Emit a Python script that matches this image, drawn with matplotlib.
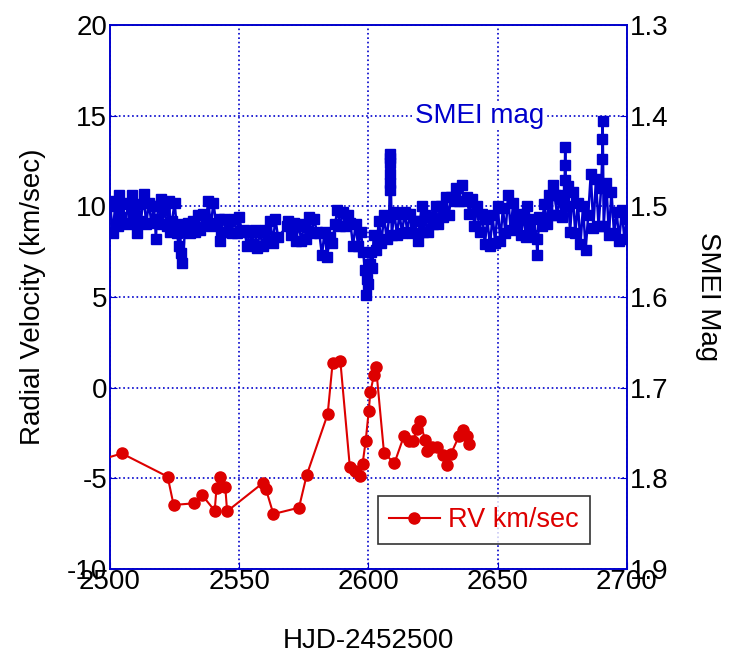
import matplotlib.pyplot as plt

plt.rcParams['font.family'] = ['Liberation Sans', 'DejaVu Sans']
plt.rcParams['axes.unicode_minus'] = False

# radial velocity (km/sec) vs HJD-2452500
rv_day = [2497.0, 2504.6, 2522.3, 2524.6, 2532.5, 2535.6, 2540.5, 2541.2, 2542.6,
          2544.6, 2545.3, 2559.3, 2560.3, 2563.2, 2573.1, 2576.1, 2584.2, 2586.1,
          2589.1, 2592.8, 2594.8, 2596.7, 2597.7, 2598.9, 2600.1, 2600.7, 2602.1,
          2602.9, 2606.0, 2610.0, 2613.7, 2615.8, 2617.1, 2618.9, 2619.9, 2621.9,
          2622.7, 2624.7, 2626.6, 2628.7, 2630.2, 2631.8, 2635.1, 2636.7, 2638.0,
          2638.8]
rv_val = [-3.95, -3.63, -4.91, -6.47, -6.38, -5.92, -6.79, -5.52, -4.91,
          -5.50, -6.82, -5.24, -5.59, -6.97, -6.62, -4.82, -1.47, 1.34,
          1.48, -4.40, -4.58, -4.88, -4.21, -2.96, -1.27, -0.26, 0.68,
          1.15, -3.59, -4.18, -2.67, -2.93, -2.93, -2.30, -1.86, -2.89,
          -3.48, -3.30, -3.26, -3.72, -4.27, -3.68, -2.65, -2.34, -2.67,
          -3.11]

# SMEI magnitude vs HJD-2452500
smei_day = [2500, 2501, 2502, 2503, 2503.5, 2504, 2505, 2506, 2507, 2508, 2508.6, 2509,
            2510, 2510.5, 2511, 2512, 2513, 2514, 2515, 2516, 2517, 2517.8, 2518, 2519,
            2519.6, 2520, 2521, 2522, 2523, 2523.2, 2524, 2525, 2526, 2526.5, 2527, 2527.5,
            2528, 2529, 2530, 2531, 2532, 2533, 2534, 2535, 2536, 2537, 2538, 2539,
            2540, 2541, 2542, 2542.6, 2543, 2544, 2545, 2546, 2547, 2548, 2549, 2550,
            2551, 2552, 2553, 2554, 2555, 2556, 2557, 2558, 2559, 2560, 2561, 2562,
            2563, 2564, 2565, 2568.5, 2569, 2570, 2571, 2572, 2573, 2574, 2575, 2576,
            2577, 2578, 2579, 2580, 2581, 2582, 2583, 2584, 2585, 2586, 2587, 2588,
            2589, 2590, 2591, 2592, 2593, 2594, 2595, 2596, 2597, 2598, 2598.5, 2599,
            2599.5, 2600, 2600.5, 2601, 2601.5, 2602, 2603, 2604, 2605, 2606, 2607, 2608,
            2608.2, 2608.25, 2608.3, 2608.35, 2608.4, 2608.45, 2609, 2610, 2611, 2612, 2613, 2614,
            2615, 2616, 2617, 2618, 2619, 2620, 2620.6, 2621, 2622, 2623, 2624, 2625,
            2626, 2627, 2628, 2629, 2630, 2631, 2632, 2633, 2634, 2635, 2636, 2637,
            2638, 2639, 2640, 2641, 2642, 2643, 2644, 2645, 2646, 2647, 2648, 2649,
            2650, 2651, 2652, 2653, 2654, 2655, 2656, 2657, 2658, 2659, 2660, 2661,
            2661.4, 2662, 2663, 2664, 2665, 2665.3, 2666, 2667, 2668, 2669, 2670, 2671,
            2671.2, 2672, 2673, 2674, 2675, 2675.8, 2675.9, 2676, 2676.1, 2676.5, 2677, 2678,
            2679, 2680, 2681, 2682, 2683, 2684, 2685, 2686, 2687, 2688, 2689, 2690,
            2690.4, 2690.5, 2690.6, 2691, 2692, 2693, 2694, 2695, 2696, 2697, 2698, 2699,
            2700]
smei_mag = [1.494, 1.530, 1.500, 1.522, 1.488, 1.512, 1.498, 1.520, 1.496, 1.518, 1.488, 1.508,
            1.520, 1.530, 1.498, 1.516, 1.486, 1.520, 1.496, 1.518, 1.500, 1.536, 1.514, 1.500,
            1.492, 1.520, 1.504, 1.522, 1.494, 1.528, 1.516, 1.496, 1.530, 1.544, 1.520, 1.552,
            1.562, 1.528, 1.518, 1.530, 1.516, 1.528, 1.510, 1.526, 1.508, 1.520, 1.494, 1.522,
            1.496, 1.518, 1.514, 1.538, 1.528, 1.514, 1.528, 1.516, 1.530, 1.514, 1.530, 1.512,
            1.528, 1.526, 1.544, 1.528, 1.542, 1.526, 1.546, 1.528, 1.544, 1.526, 1.538, 1.516,
            1.540, 1.514, 1.534, 1.522, 1.516, 1.532, 1.518, 1.538, 1.520, 1.538, 1.522, 1.536,
            1.512, 1.530, 1.514, 1.528, 1.530, 1.554, 1.528, 1.556, 1.534, 1.540, 1.520, 1.504,
            1.522, 1.506, 1.522, 1.510, 1.518, 1.544, 1.520, 1.544, 1.528, 1.550, 1.570, 1.598,
            1.580, 1.586, 1.564, 1.550, 1.568, 1.532, 1.548, 1.516, 1.540, 1.510, 1.536, 1.512,
            1.482, 1.474, 1.464, 1.452, 1.447, 1.442, 1.532, 1.506, 1.532, 1.508, 1.530, 1.506,
            1.528, 1.508, 1.530, 1.516, 1.538, 1.516, 1.500, 1.528, 1.510, 1.528, 1.512, 1.520,
            1.500, 1.520, 1.500, 1.512, 1.490, 1.510, 1.490, 1.494, 1.480, 1.494, 1.476, 1.494,
            1.490, 1.508, 1.492, 1.522, 1.500, 1.528, 1.508, 1.542, 1.514, 1.544, 1.510, 1.540,
            1.500, 1.538, 1.502, 1.530, 1.488, 1.526, 1.496, 1.520, 1.508, 1.532, 1.510, 1.534,
            1.500, 1.520, 1.532, 1.514, 1.536, 1.554, 1.512, 1.522, 1.498, 1.520, 1.488, 1.510,
            1.476, 1.488, 1.510, 1.492, 1.512, 1.488, 1.471, 1.454, 1.435, 1.500, 1.478, 1.528,
            1.484, 1.530, 1.496, 1.542, 1.500, 1.548, 1.510, 1.464, 1.524, 1.470, 1.522, 1.480,
            1.448, 1.426, 1.406, 1.522, 1.474, 1.532, 1.484, 1.530, 1.506, 1.538, 1.504, 1.536,
            1.514]

blue = '#0000CC'
red = '#DD0000'
fs = 20

fig = plt.figure(figsize=(7.31, 6.57), dpi=100)
ax = fig.add_axes([0.1505, 0.134, 0.7072, 0.828])
ax2 = ax.twinx()

ax2.plot(smei_day, smei_mag, '-s', color=blue, ms=6.5, lw=1.8, mec=blue, zorder=3)
ax.plot(rv_day, rv_val, '-o', color=red, ms=8, lw=1.5, label='RV km/sec', zorder=4)
ax.set_zorder(ax2.get_zorder() + 1)
ax.patch.set_visible(False)

ax.set_xlim(2500, 2700)
ax.set_ylim(-10, 20)
ax2.set_ylim(1.9, 1.3)
ax.set_xticks([2500, 2550, 2600, 2650, 2700])
ax.set_yticks(range(-10, 21, 5))
ax2.set_yticks([1.3, 1.4, 1.5, 1.6, 1.7, 1.8, 1.9])
ax2.set_yticklabels(['1.3', '1.4', '1.5', '1.6', '1.7', '1.8', '1.9'])

ax.grid(True, color=blue, linestyle=':', linewidth=1.2)
for a in (ax, ax2):
    for s in a.spines.values():
        s.set_color(blue)
        s.set_linewidth(1.2)
    a.tick_params(direction='in', color=blue, labelsize=fs, length=5, pad=2)
ax.tick_params(axis='x', pad=0)

ax.set_ylabel('Radial Velocity (km/sec)', fontsize=fs, labelpad=15)
ax.set_xlabel('HJD-2452500', fontsize=fs, labelpad=24)
ax2.set_ylabel('SMEI Mag', fontsize=fs, rotation=270, labelpad=38)

ax.text(2643, 15.0, 'SMEI mag', color=blue, fontsize=fs, ha='center', va='center',
        bbox=dict(facecolor='white', edgecolor='none', pad=1), zorder=5)

leg = ax.legend(loc='lower left', bbox_to_anchor=(0.518, 0.046), fontsize=19.5,
                frameon=True, fancybox=False, handlelength=1.9, handletextpad=0.3,
                borderpad=0.4, borderaxespad=0, labelcolor=red)
leg.get_frame().set_edgecolor('black')
leg.get_frame().set_linewidth(1.2)

fig.savefig('out.png', dpi=100)
